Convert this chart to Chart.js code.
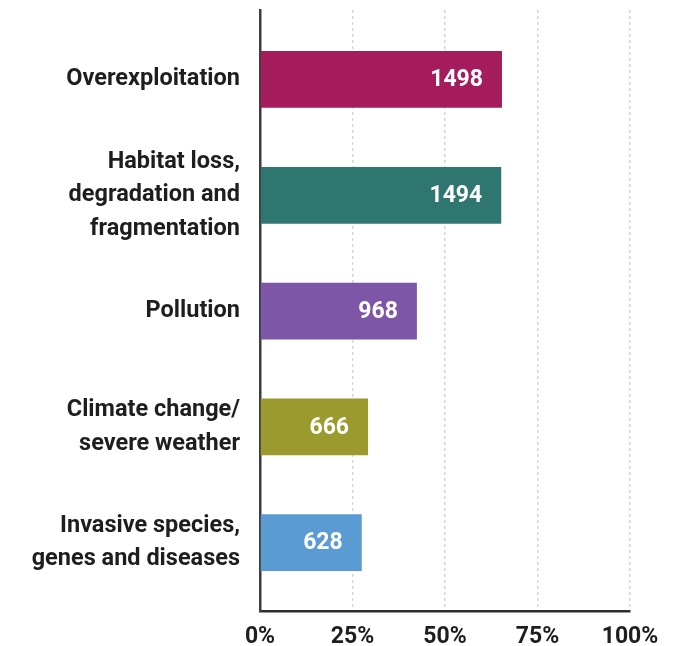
<!DOCTYPE html>
<html>
<head>
<meta charset="utf-8">
<script src="https://cdn.jsdelivr.net/npm/chart.js@4.4.1/dist/chart.umd.min.js"></script>
<style>
    html, body { margin: 0; padding: 0; background: #fff; }
    #wrap { width: 687px; height: 646px; }
</style>
</head>
<body>
<div id="wrap"><canvas id="threatsChart"></canvas></div>
<script>
const categories = [
    ["Overexploitation"],
    ["Habitat loss,", "degradation and", "fragmentation"],
    ["Pollution"],
    ["Climate change/", "severe weather"],
    ["Invasive species,", "genes and diseases"],
]
// share of species affected (%)
const shareValues = [65.4, 65.2, 42.4, 29.2, 27.5]
// number of species printed inside each bar
const speciesCounts = [1498, 1494, 968, 666, 628]
const barColors = ["#a51c5c", "#2f7670", "#7d56a8", "#9a9a2e", "#5b9bd4"]
const xTicks = [0, 25, 50, 75, 100]

const FONT = "Roboto, 'Liberation Sans', sans-serif"

// draws the counts inside the end of each bar
const countLabels = {
    id: "countLabels",
    afterDatasetsDraw(chart) {
        const ctx = chart.ctx
        const meta = chart.getDatasetMeta(0)
        ctx.save()
        ctx.font = `bold 23px ${FONT}`
        ctx.fillStyle = "#ffffff"
        ctx.textAlign = "right"
        ctx.textBaseline = "middle"
        meta.data.forEach((bar, i) => {
            ctx.fillText(String(speciesCounts[i]), bar.x - 19, bar.y + 1)
        })
        ctx.restore()
    },
}

const ctx = document.getElementById("threatsChart").getContext("2d")
new Chart(ctx, {
    type: "bar",
    data: {
        datasets: [
            {
                data: shareValues.map((v, i) => ({ x: v, y: i })),
                backgroundColor: barColors,
                borderWidth: 0,
                categoryPercentage: 1,
                barPercentage: 0.49,
            },
        ],
    },
    options: {
        indexAxis: "y",
        responsive: true,
        maintainAspectRatio: false,
        animation: false,
        layout: {
            padding: { top: 10, right: 57, left: 0, bottom: 0 },
        },
        plugins: {
            legend: { display: false },
            tooltip: { enabled: false },
        },
        scales: {
            x: {
                type: "linear",
                min: 0,
                max: 100,
                bounds: "data",
                afterBuildTicks: (scale) => {
                    scale.ticks = xTicks.map((v) => ({ value: v }))
                },
                afterFit: (scale) => {
                    scale.height = 35
                },
                ticks: {
                    callback: (v) => v + "%",
                    color: "#1e1e1e",
                    padding: 12,
                    maxRotation: 0,
                    font: { family: FONT, size: 23, weight: "bold" },
                },
                grid: {
                    color: (c) => (c.tick && c.tick.value === 0 ? "rgba(0,0,0,0)" : "#d6d6d6"),
                    lineWidth: 1.5,
                    drawTicks: false,
                },
                border: {
                    display: true,
                    color: "#2e2e2e",
                    width: 2.5,
                    dash: [3, 3],
                },
            },
            y: {
                type: "linear",
                reverse: true,
                offset: false,
                min: -0.6,
                max: 4.59,
                bounds: "data",
                afterBuildTicks: (scale) => {
                    scale.ticks = categories.map((c, i) => ({ value: i }))
                },
                afterFit: (scale) => {
                    scale.width = 260
                    // labels sit well inside the axis, no end overhang
                    scale.paddingTop = 0
                    scale.paddingBottom = 0
                },
                ticks: {
                    callback: (v) => categories[v] || "",
                    color: "#1e1e1e",
                    padding: 20,
                    font: { family: FONT, size: 23.5, weight: "bold", lineHeight: 1.43 },
                },
                grid: { display: false, drawTicks: false },
                border: {
                    display: true,
                    color: "#3c3c3c",
                    width: 2.5,
                },
            },
        },
    },
    plugins: [countLabels],
})
</script>
</body>
</html>
